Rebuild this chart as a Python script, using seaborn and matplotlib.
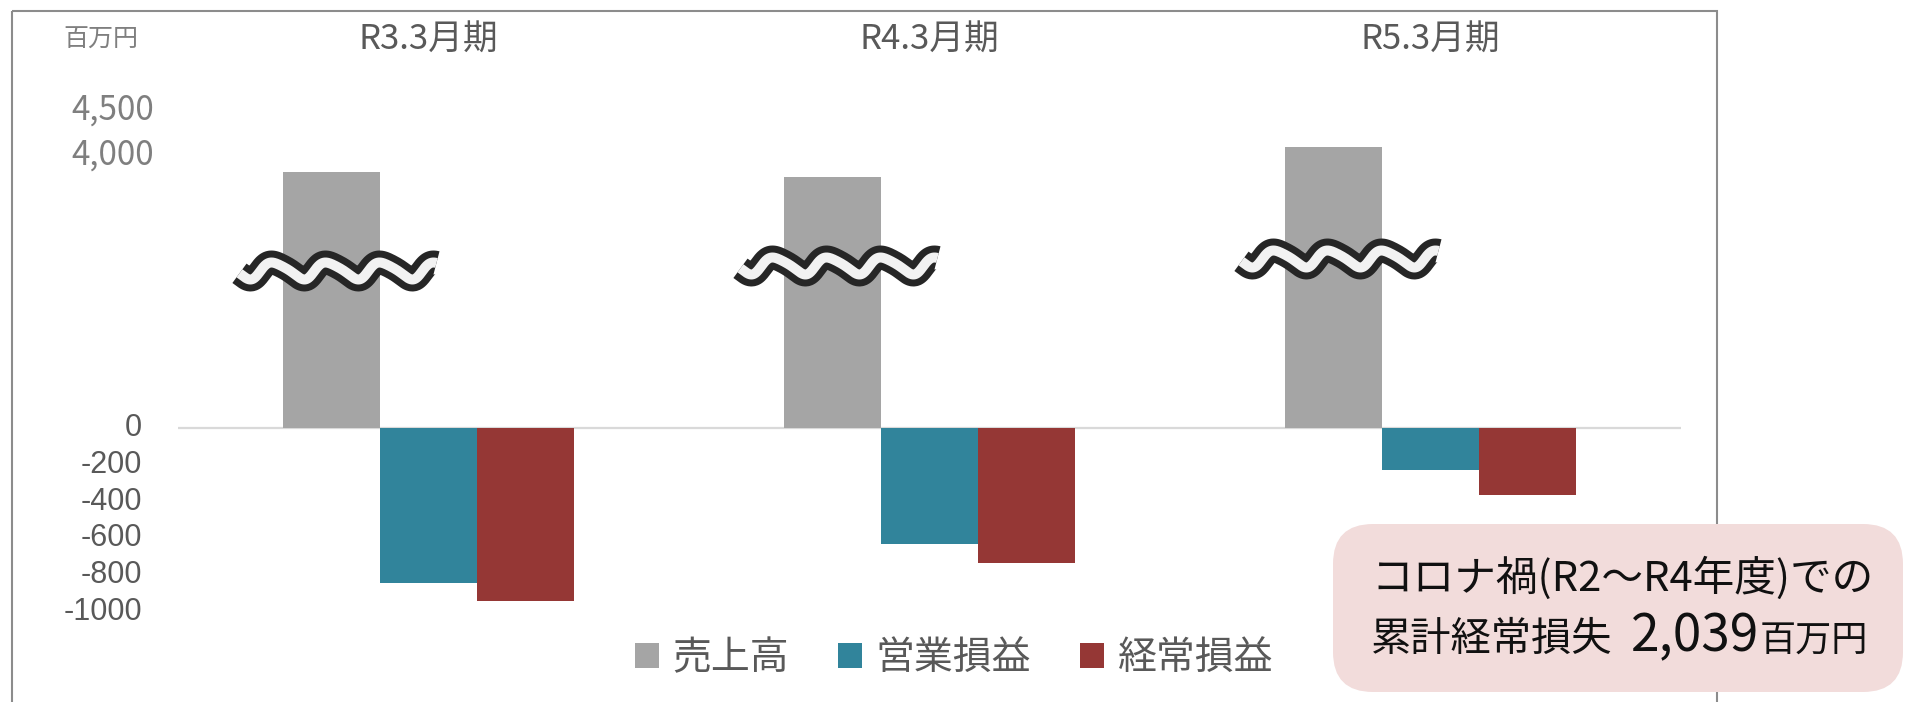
import numpy as np
import pandas as pd
import matplotlib
matplotlib.use('Agg')
import matplotlib.pyplot as plt
import matplotlib.transforms as mtransforms
from matplotlib.patches import FancyBboxPatch, Rectangle
from matplotlib import font_manager as fm
import seaborn as sns

# ---------------- data ----------------
periods = ['R3.3月期', 'R4.3月期', 'R5.3月期']
series = ['売上高', '営業損益', '経常損益']
sales = [3810, 3755, 4090]
operating = [-840, -630, -228]
ordinary = [-940, -735, -364]
colors = ['#a5a5a5', '#31849b', '#953735']
upper_ticks = [4000, 4500]
upper_tick_labels = ['4,000', '4,500']
lower_ticks = [0, -200, -400, -600, -800, -1000]
lower_tick_labels = ['0', '-200', '-400', '-600', '-800', '-1000']
unit_label = '百万円'
note_line1 = 'コロナ禍(R2～R4年度)での'
note_line2 = '累計経常損失'
note_value = '2,039'
note_unit = '百万円'

# ---------------- style ----------------
sns.set_style('white')
plt.rcParams['font.family'] = ['Noto Sans CJK JP', 'DejaVu Sans']


def has_font(name):
    try:
        fm.findfont(fm.FontProperties(family=name), fallback_to_default=False)
        return True
    except Exception:
        return False


tick_font = 'Liberation Sans' if has_font('Liberation Sans') else 'DejaVu Sans'

W, H = 1906, 702
fig = plt.figure(figsize=(W / 100, H / 100), dpi=100)
fig.patch.set_facecolor('white')

# broken-axis scale (pixel geometry of the reference)
ZERO_PX = 428
LOW = 0.184          # px per unit, lower part
UP = 0.09            # px per unit, upper part
UP_REF, UP_REF_RISE = 4000, 273
V1, V2 = 800, 3500
F2 = (UP_REF_RISE + (V2 - UP_REF) * UP) / LOW


def fwd(v):
    v = np.asarray(v, dtype=float)
    hi = (UP_REF_RISE + (v - UP_REF) * UP) / LOW
    mid = V1 + (v - V1) * (F2 - V1) / (V2 - V1)
    return np.where(v <= V1, v, np.where(v >= V2, hi, mid))


def inv(f):
    f = np.asarray(f, dtype=float)
    hi = UP_REF + (f * LOW - UP_REF_RISE) / UP
    mid = V1 + (f - V1) * (V2 - V1) / (F2 - V1)
    return np.where(f <= V1, f, np.where(f >= F2, hi, mid))


AX_L, AX_R, AX_T, AX_B = 178, 1681, 80, 640
ax = fig.add_axes([AX_L / W, (H - AX_B) / H, (AX_R - AX_L) / W, (AX_B - AX_T) / H])

df = pd.DataFrame({
    'period': periods * 3,
    'series': [series[0]] * 3 + [series[1]] * 3 + [series[2]] * 3,
    'value': sales + operating + ordinary,
})
sns.barplot(data=df, x='period', y='value', hue='series', order=periods,
            hue_order=series, palette=colors, saturation=1, width=0.581,
            errorbar=None, linewidth=0, ax=ax)

ax.set_yscale('function', functions=(fwd, inv))
y_bot = -(AX_B - ZERO_PX) / LOW
y_top = UP_REF + ((ZERO_PX - AX_T) - UP_REF_RISE) / UP
ax.set_ylim(y_bot, y_top)
ax.set_xlim(-0.5, 2.5)
ax.set_xticks([])
ax.set_yticks([])
ax.set_xlabel('')
ax.set_ylabel('')
for s in ax.spines.values():
    s.set_visible(False)
ax.axhline(0, color='#d9d9d9', lw=1.6, zorder=0.5)

sns.move_legend(ax, 'center', bbox_to_anchor=(954 / W, 1 - 658 / H),
                bbox_transform=fig.transFigure, ncol=3, frameon=False,
                title=None, fontsize=28, handlelength=0.62, handleheight=0.62,
                handletextpad=0.35, columnspacing=1.25, labelcolor='#595959')

# overlay in pixel coordinates
ov = fig.add_axes([0, 0, 1, 1], zorder=5)
ov.set_xlim(0, W)
ov.set_ylim(H, 0)
ov.axis('off')
ov.patch.set_alpha(0)

# chart frame
ov.add_patch(Rectangle((12, 11), 1717 - 12, 720, fill=False, ec='#8c8c8c', lw=1.5))

# category labels on top
tr_cat = mtransforms.blended_transform_factory(ax.transData, ov.transData)
for i, p in enumerate(periods):
    ax.text(i, 40, p, transform=tr_cat, ha='center', va='center',
            fontsize=25, color='#595959')

ov.text(63, 40, unit_label, fontsize=18, color='#7f7f7f', ha='left', va='center')

# tick labels
tr_tick = mtransforms.blended_transform_factory(ov.transData, ax.transData)
for v, lab in zip(upper_ticks, upper_tick_labels):
    ax.text(154, v, lab, transform=tr_tick, ha='right', va='center',
            fontsize=24, color='#7f7f7f', clip_on=False)
for v, lab in zip(lower_ticks, lower_tick_labels):
    ax.text(142, v, lab, transform=tr_tick, ha='right', va='center',
            fontsize=22, color='#595959', family=[tick_font, 'DejaVu Sans'],
            clip_on=False)

# wave break marks on the sales bars (skewed sine, pixel units)
wave_rise = [157, 162, 169]
PERIOD, AMP, SKEW = 54, 8.5, -0.39
for patch, rise in zip(ax.containers[0], wave_rise):
    cx_data = patch.get_x() + patch.get_width() / 2
    px, py = ax.transData.transform((cx_data, 0))
    zero_y = H - py
    yc = zero_y - rise
    xs = np.linspace(px - 92, px + 105, 500)
    t = (xs - (px - 60)) / PERIOD
    theta = 2 * np.pi * t + SKEW * (1 - np.cos(2 * np.pi * t))
    ys = yc - AMP * np.cos(theta)
    ov.plot(xs, ys, color='#262626', lw=24 * 0.72, solid_capstyle='butt', zorder=6)
    ov.plot(xs, ys, color='#f2f2f2', lw=10 * 0.72, solid_capstyle='butt', zorder=7)

# note box
ov.add_patch(FancyBboxPatch((1333, 524), 570, 168,
                            boxstyle='round,pad=0,rounding_size=40',
                            fc='#f2dcdb', ec='none', zorder=8))
ov.text(1371, 578, note_line1, fontsize=30, color='#111111', ha='left',
        va='center', zorder=9)
t1 = ov.text(1371, 651, note_line2, fontsize=29, color='#111111', ha='left',
             va='baseline', zorder=9)
fig.canvas.draw()
x2 = t1.get_window_extent().x1 + 18
t2 = ov.text(x2, 651, note_value, fontsize=37, color='#111111', ha='left',
             va='baseline', zorder=9)
fig.canvas.draw()
x3 = t2.get_window_extent().x1 + 1
ov.text(x3, 651, note_unit, fontsize=26, color='#111111', ha='left',
        va='baseline', zorder=9)

fig.savefig('out.png', dpi=100)
